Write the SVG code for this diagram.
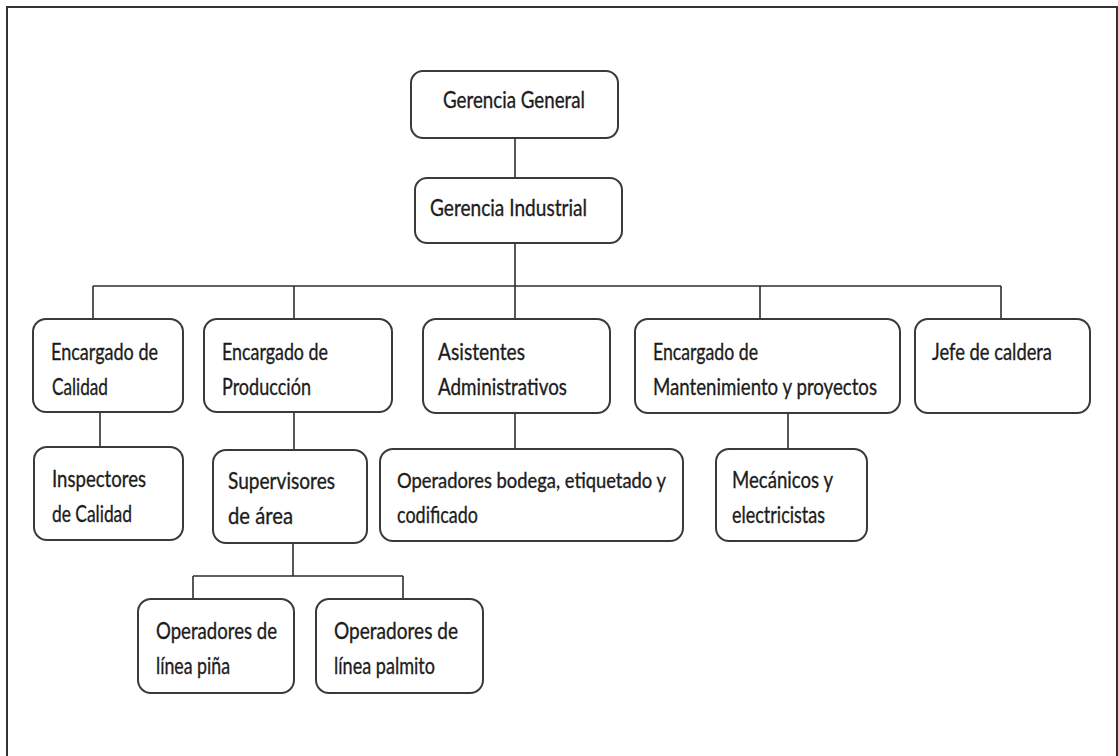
<svg xmlns="http://www.w3.org/2000/svg" width="1118" height="756" viewBox="0 0 1118 756">
  <style>
    .frame { fill: #ffffff; stroke: #333333; stroke-width: 2; }
    .box { fill: #ffffff; stroke: #3a3a3a; stroke-width: 2; }
    .link { fill: none; stroke: #2e2e2e; stroke-width: 1.6; }
    .lbl { font-family: Lato, "Liberation Sans", sans-serif; font-size: 24px; fill: #1c1c1c; stroke: #1c1c1c; stroke-width: 0.35; }
  </style>

  <!-- page border -->
  <rect class="frame" x="7" y="7" width="1110" height="820"/>

  <!-- connectors -->
  <g id="connectors">
    <path class="link" d="M515,138 V178"/>
    <path class="link" d="M515,243 V319"/>
    <path class="link" d="M93,286 H1001"/>
    <path class="link" d="M93,286 V319 M294,286 V319 M760,286 V319 M1001,286 V319"/>
    <path class="link" d="M100,412 V447"/>
    <path class="link" d="M294,412 V450"/>
    <path class="link" d="M515,413 V449"/>
    <path class="link" d="M788,413 V449"/>
    <path class="link" d="M293,543 V576 M193,576 H403 M193,576 V599 M403,576 V599"/>
  </g>

  <g id="gerencia-general">
    <rect class="box" x="411" y="71" width="207" height="67" rx="12"/>
    <text class="lbl" x="443" y="108" textLength="142" lengthAdjust="spacingAndGlyphs">Gerencia General</text>
  </g>

  <g id="gerencia-industrial">
    <rect class="box" x="415" y="178" width="207" height="65" rx="12"/>
    <text class="lbl" x="430" y="216" textLength="157" lengthAdjust="spacingAndGlyphs">Gerencia  Industrial</text>
  </g>

  <g id="encargado-calidad">
    <rect class="box" x="33" y="319" width="150" height="93" rx="13"/>
    <text class="lbl" x="51" y="360" textLength="107" lengthAdjust="spacingAndGlyphs">Encargado de</text>
    <text class="lbl" x="52" y="395" textLength="56" lengthAdjust="spacingAndGlyphs">Calidad</text>
  </g>

  <g id="encargado-produccion">
    <rect class="box" x="204" y="319" width="188" height="93" rx="13"/>
    <text class="lbl" x="222" y="360" textLength="106" lengthAdjust="spacingAndGlyphs">Encargado de</text>
    <text class="lbl" x="222" y="395" textLength="89" lengthAdjust="spacingAndGlyphs">Producción</text>
  </g>

  <g id="asistentes-administrativos">
    <rect class="box" x="423" y="319" width="187" height="94" rx="13"/>
    <text class="lbl" x="438" y="360" textLength="87" lengthAdjust="spacingAndGlyphs">Asistentes</text>
    <text class="lbl" x="438" y="395" textLength="129" lengthAdjust="spacingAndGlyphs">Administrativos</text>
  </g>

  <g id="encargado-mantenimiento">
    <rect class="box" x="635" y="319" width="265" height="94" rx="13"/>
    <text class="lbl" x="653" y="360" textLength="105" lengthAdjust="spacingAndGlyphs">Encargado de</text>
    <text class="lbl" x="653" y="395" textLength="224" lengthAdjust="spacingAndGlyphs">Mantenimiento y proyectos</text>
  </g>

  <g id="jefe-caldera">
    <rect class="box" x="915" y="319" width="175" height="94" rx="13"/>
    <text class="lbl" x="932" y="360" textLength="120" lengthAdjust="spacingAndGlyphs">Jefe de caldera</text>
  </g>

  <g id="inspectores-calidad">
    <rect class="box" x="34" y="447" width="149" height="93" rx="13"/>
    <text class="lbl" x="52" y="487" textLength="94" lengthAdjust="spacingAndGlyphs">Inspectores</text>
    <text class="lbl" x="52" y="522" textLength="80" lengthAdjust="spacingAndGlyphs">de Calidad</text>
  </g>

  <g id="supervisores-area">
    <rect class="box" x="213" y="450" width="154" height="93" rx="13"/>
    <text class="lbl" x="228" y="489" textLength="107" lengthAdjust="spacingAndGlyphs">Supervisores</text>
    <text class="lbl" x="228" y="524" textLength="65" lengthAdjust="spacingAndGlyphs">de  área</text>
  </g>

  <g id="operadores-bodega">
    <rect class="box" x="380" y="449" width="303" height="92" rx="13"/>
    <text class="lbl" x="397" y="488" font-size="21" textLength="269" lengthAdjust="spacingAndGlyphs" style="font-size:21px">Operadores bodega, etiquetado y</text>
    <text class="lbl" x="397" y="523" textLength="81" lengthAdjust="spacingAndGlyphs">codificado</text>
  </g>

  <g id="mecanicos-electricistas">
    <rect class="box" x="716" y="449" width="151" height="92" rx="13"/>
    <text class="lbl" x="732" y="488" textLength="101" lengthAdjust="spacingAndGlyphs">Mecánicos y</text>
    <text class="lbl" x="732" y="523" textLength="93" lengthAdjust="spacingAndGlyphs">electricistas</text>
  </g>

  <g id="operadores-pina">
    <rect class="box" x="138" y="599" width="156" height="94" rx="13"/>
    <text class="lbl" x="156" y="639" textLength="121" lengthAdjust="spacingAndGlyphs">Operadores de</text>
    <text class="lbl" x="156" y="674" textLength="74" lengthAdjust="spacingAndGlyphs">línea piña</text>
  </g>

  <g id="operadores-palmito">
    <rect class="box" x="316" y="599" width="167" height="94" rx="13"/>
    <text class="lbl" x="334" y="639" textLength="124" lengthAdjust="spacingAndGlyphs">Operadores  de</text>
    <text class="lbl" x="334" y="674" textLength="101" lengthAdjust="spacingAndGlyphs">línea palmito</text>
  </g>
</svg>
